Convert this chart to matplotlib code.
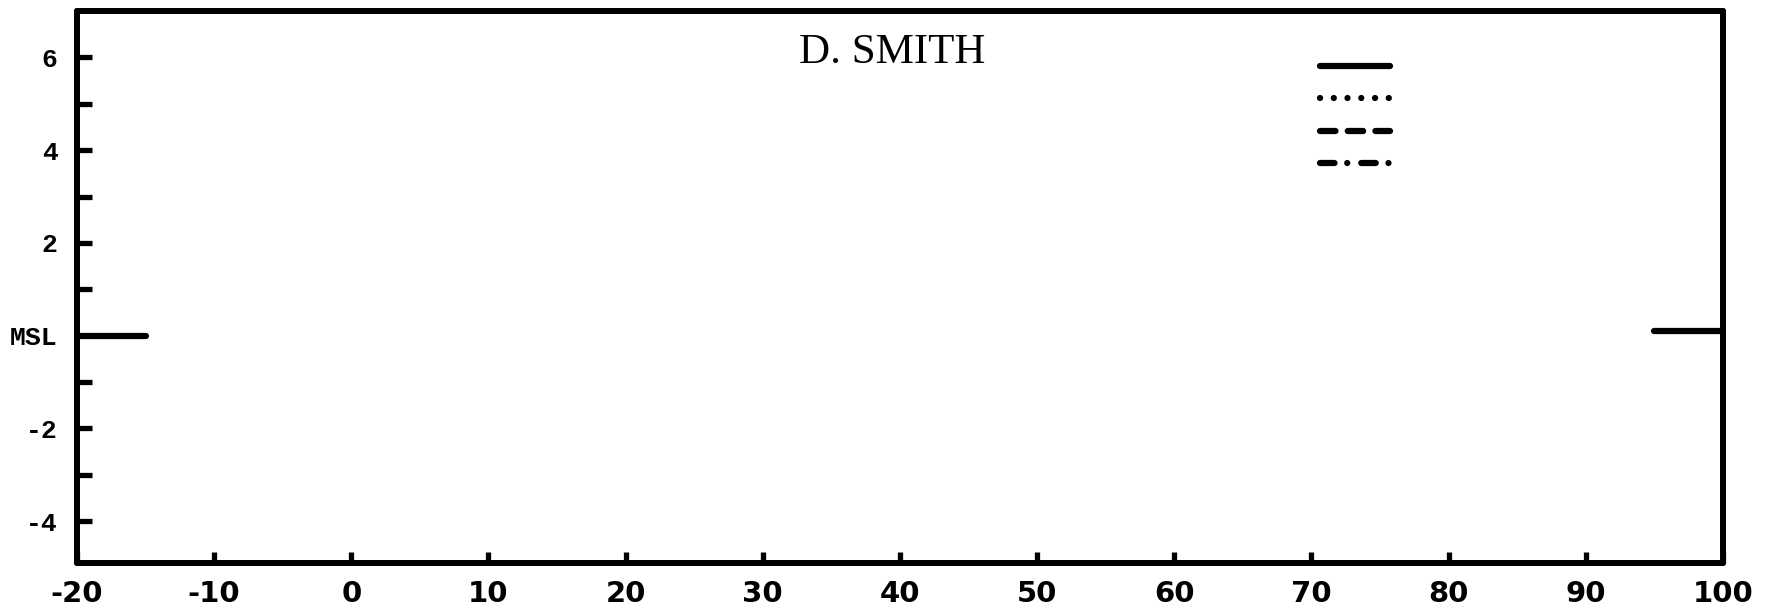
import matplotlib
matplotlib.use("Agg")
import matplotlib.pyplot as plt
from matplotlib.lines import Line2D
from matplotlib.ticker import FixedLocator

# Profile frame: distance along the line vs. elevation relative to MSL
x_ticks = [-20, -10, 0, 10, 20, 30, 40, 50, 60, 70, 80, 90, 100]
x_tick_labels = ["-20", "-10", "0", "10", "20", "30", "40", "50", "60", "70", "80", "90", "100"]
y_major = [-4, -2, 0, 2, 4, 6]
y_major_labels = ["-4", "-2", "MSL", "2", "4", "6"]
y_minor = [-3, -1, 1, 3, 5]

# Short MSL reference marks at each end of the profile
msl_left_x = [-20, -15]
msl_left_y = [0.0, 0.0]
msl_right_x = [95, 100]
msl_right_y = [0.11, 0.11]

title = "D. SMITH"

# Line styles shown in the key (dash patterns in units of line width)
key_styles = [
    "-",
    (0, (0.01, 2.19)),
    (0, (2.48, 1.95)),
    (0, (2.32, 2.03, 0.01, 2.24)),
]

fig = plt.figure(figsize=(17.73, 6.09), dpi=100)
ax = fig.add_axes([0.0434, 0.0755, 0.9284, 0.9065])

ax.set_xlim(-20, 100)
ax.set_ylim(-4.9, 7.0)

for s in ax.spines.values():
    s.set_linewidth(4.3)
    s.set_capstyle("round")

ax.set_xticks(x_ticks)
ax.set_xticklabels(x_tick_labels, family="DejaVu Sans", fontweight="bold", fontsize=21)
ax.set_yticks(y_major)
ax.set_yticklabels(y_major_labels, family="Liberation Mono", fontweight="bold", fontsize=19)
ax.yaxis.set_minor_locator(FixedLocator(y_minor))

ax.tick_params(axis="x", direction="in", length=8, width=3.8, pad=12)
ax.tick_params(axis="y", which="both", direction="in", length=10.5, width=3.8, pad=14)
for t in ax.xaxis.get_major_ticks() + ax.yaxis.get_major_ticks() + ax.yaxis.get_minor_ticks():
    t.tick1line.set_solid_capstyle("round")
# the MSL level gets a long mark instead of a tick
ax.yaxis.get_major_ticks()[2].tick1line.set_visible(False)

ax.plot(msl_left_x, msl_left_y, color="black", lw=4.5, solid_capstyle="round")
ax.plot(msl_right_x, msl_right_y, color="black", lw=4.5, solid_capstyle="round")

ax.text(0.495, 0.925, title, transform=ax.transAxes, ha="center", va="center",
        family="Liberation Serif", fontsize=31)

handles = [Line2D([], [], color="black", lw=4.5, linestyle=ls,
                  dash_capstyle="round", solid_capstyle="round")
           for ls in key_styles]
ax.legend(handles, [""] * len(handles), loc="upper left",
          bbox_to_anchor=(0.755, 0.915), frameon=False, fontsize=14.4,
          handlelength=3.5, handletextpad=0, labelspacing=0.67,
          borderpad=0, borderaxespad=0)

fig.savefig("out.png", dpi=100)
